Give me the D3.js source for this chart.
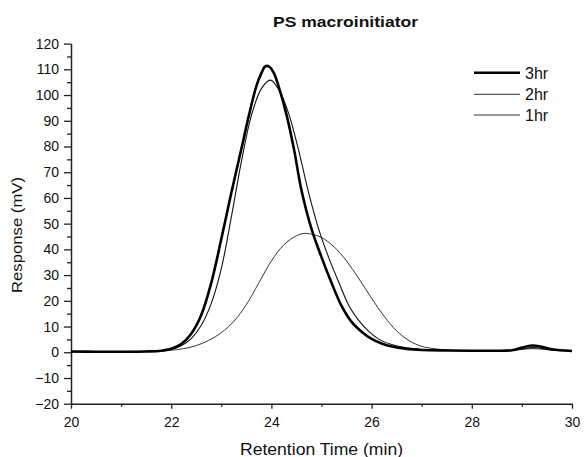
<!DOCTYPE html>
<html><head><meta charset="utf-8">
<script src="https://cdn.jsdelivr.net/npm/d3@7"></script>
<style>body{margin:0;background:#fff;} text{font-family:Arial,"Liberation Sans",sans-serif;fill:#111;}</style>
</head><body><svg id="c" width="584" height="457"></svg>
<script>
const seriesNames = ["3hr", "2hr", "1hr"];
const time3 = [20.0,20.5,21.0,21.5,21.8,22.0,22.2,22.4,22.6,22.8,23.0,23.2,23.4,23.55,23.7,23.8,23.88,23.96,24.05,24.15,24.3,24.45,24.6,24.8,25.0,25.2,25.4,25.6,25.8,26.0,26.2,26.4,26.7,27.0,27.5,28.0,28.5,28.8,29.0,29.2,29.4,29.6,30.0];
const resp3 = [0.3,0.2,0.2,0.3,0.6,1.4,3.2,7.2,14.5,27.0,44.0,62.0,79.0,92.0,103.5,108.5,111.2,111.0,108.5,103.0,92.5,79.0,63.0,48.0,37.0,27.0,18.0,11.8,8.0,5.2,3.4,2.2,1.3,0.9,0.7,0.6,0.6,0.8,1.8,2.6,2.1,1.2,0.5];
const time2 = [20.0,21.0,21.5,21.8,22.0,22.2,22.4,22.6,22.8,23.0,23.2,23.4,23.6,23.8,23.98,24.15,24.35,24.55,24.75,24.95,25.15,25.35,25.55,25.75,25.95,26.15,26.4,26.7,27.0,27.5,28.0,28.5,28.8,29.0,29.2,29.4,29.6,30.0];
const resp2 = [0.2,0.2,0.3,0.5,1.1,2.5,5.3,10.5,19.0,32.5,52.5,74.0,92.0,102.5,105.8,102.0,92.5,78.0,61.5,47.5,36.5,27.0,18.0,12.2,8.0,5.0,3.0,1.7,1.1,0.8,0.6,0.6,0.7,1.3,1.8,1.5,0.9,0.5];
const time1 = [20.0,21.0,21.5,21.8,22.0,22.25,22.5,22.75,23.0,23.25,23.5,23.75,24.0,24.25,24.5,24.65,24.8,25.0,25.25,25.5,25.75,26.0,26.25,26.5,26.75,27.0,27.25,27.5,28.0,28.5,28.8,29.0,29.2,29.4,29.6,30.0];
const resp1 = [0.3,0.3,0.4,0.5,0.8,1.4,2.6,4.6,7.6,12.0,18.5,27.0,35.5,41.8,45.3,46.2,45.9,44.6,41.0,35.5,28.5,21.0,14.0,8.3,4.5,2.3,1.4,0.9,0.6,0.6,0.7,1.1,1.4,1.2,0.8,0.5];
const xTicks = [20,22,24,26,28,30];
const yTicks = [-20,-10,0,10,20,30,40,50,60,70,80,90,100,110,120];

const svg = d3.select("#c");
const x = d3.scaleLinear().domain([20,30]).range([71,572]);
const y = d3.scaleLinear().domain([-20,120]).range([403.7,43.6]);

// Axes
const gx = svg.append("g").attr("transform","translate(0,403.7)")
  .call(d3.axisBottom(x).tickValues(d3.range(21,30,2)).tickSize(3).tickFormat(""));
gx.select(".domain").remove();
svg.append("g").attr("transform","translate(0,403.7)")
  .call(d3.axisBottom(x).tickValues(xTicks).tickSize(5).tickSizeOuter(0).tickPadding(8).tickFormat(d3.format("d")));
const gy = svg.append("g").attr("transform","translate(71,0)")
  .call(d3.axisLeft(y).tickValues(d3.range(-15,120,10)).tickSize(4).tickFormat(""));
gy.select(".domain").remove();
svg.append("g").attr("transform","translate(71,0)")
  .call(d3.axisLeft(y).tickValues(yTicks).tickSize(7).tickSizeOuter(0).tickPadding(5).tickFormat(d3.format("d")));
svg.selectAll(".domain").attr("stroke","#222").attr("stroke-width",1.5);
svg.selectAll(".tick line").attr("stroke","#222").attr("stroke-width",1.3);
svg.selectAll(".tick text").attr("font-size","14px").attr("fill","#111").style("font-family","Arial, 'Liberation Sans', sans-serif");

// Lines
const line = d3.line().x(d=>x(d[0])).y(d=>y(d[1])).curve(d3.curveCatmullRom.alpha(0.5));
const data = [
  {name:"1hr", pts: d3.zip(time1, resp1), w:1.0, c:"#333"},
  {name:"2hr", pts: d3.zip(time2, resp2), w:1.1, c:"#111"},
  {name:"3hr", pts: d3.zip(time3, resp3), w:2.6, c:"#000"}
];
svg.append("g").selectAll("path").data(data).join("path")
  .attr("d", d=>line(d.pts)).attr("fill","none")
  .attr("stroke", d=>d.c).attr("stroke-width", d=>d.w);

// Legend
const legY = [72.7, 94.3, 115];
const legW = [2.6, 1.0, 1.0];
const leg = svg.append("g");
seriesNames.forEach((n,i)=>{
  leg.append("line").attr("x1",474).attr("x2",520).attr("y1",legY[i]).attr("y2",legY[i])
    .attr("stroke", i===0?"#000":"#333").attr("stroke-width",legW[i]);
  leg.append("text").attr("x",525).attr("y",legY[i]+6).attr("font-size","16px").text(n);
});

// Titles
svg.append("text").attr("x",273).attr("y",27.3)
  .attr("font-size","15.5px").attr("font-weight","bold")
  .attr("textLength",145).attr("lengthAdjust","spacingAndGlyphs").text("PS macroinitiator");
svg.append("text").attr("x",240).attr("y",455)
  .attr("font-size","16px").attr("textLength",163).attr("lengthAdjust","spacingAndGlyphs")
  .text("Retention Time (min)");
svg.append("text").attr("transform","translate(22,293) rotate(-90)")
  .attr("font-size","15px").attr("textLength",116).attr("lengthAdjust","spacingAndGlyphs")
  .text("Response (mV)");
</script></body></html>
